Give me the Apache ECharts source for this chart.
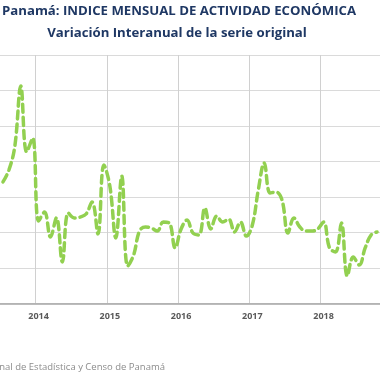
<!DOCTYPE html>
<html><head><meta charset="utf-8">
<script src="https://cdn.jsdelivr.net/npm/echarts@6/dist/echarts.min.js"></script>
<style>html,body{margin:0;padding:0;background:#fff}#c{width:380px;height:380px}</style>
</head><body><div id="c"></div>
<script>
var months = ["2013-07","2013-08","2013-09","2013-10","2013-11","2013-12",
"2014-01","2014-02","2014-03","2014-04","2014-05","2014-06","2014-07","2014-08","2014-09","2014-10","2014-11","2014-12",
"2015-01","2015-02","2015-03","2015-04","2015-05","2015-06","2015-07","2015-08","2015-09","2015-10","2015-11","2015-12",
"2016-01","2016-02","2016-03","2016-04","2016-05","2016-06","2016-07","2016-08","2016-09","2016-10","2016-11","2016-12",
"2017-01","2017-02","2017-03","2017-04","2017-05","2017-06","2017-07","2017-08","2017-09","2017-10","2017-11","2017-12",
"2018-01","2018-02","2018-03","2018-04","2018-05","2018-06","2018-07","2018-08","2018-09","2018-10"];
var variacion = [6.85,7.52,8.87,12.25,8.54,9.32,
4.65,5.15,3.75,4.82,2.34,5.10,4.82,4.87,5.04,5.72,3.92,7.80,
6.62,3.69,7.18,2.11,2.73,4.08,4.31,4.25,4.08,4.59,4.54,3.13,
4.20,4.70,3.97,3.86,5.38,4.20,4.93,4.59,4.76,4.03,4.59,3.80,
4.42,6.39,7.92,6.23,6.28,5.83,3.97,4.82,4.31,4.08,4.08,4.20,
4.59,3.13,2.90,4.54,1.55,2.62,2.17,3.13,3.86,4.03];
var yMin = 0, yMax = 14, yStep = 2;
var titulo = "Panamá: INDICE MENSUAL DE ACTIVIDAD ECONÓMICA";
var subtitulo = "Variación Interanual de la serie original";
var fuente = "Fuente: Instituto Nacional de Estadística y Censo de Panamá";

var isJan = function (i) { return months[i].slice(5) === "01"; };
var chart = echarts.init(document.getElementById('c'), null, {renderer: 'canvas'});
chart.setOption({
  animation: false,
  grid: {left: -2.8, top: 55, width: 392, height: 248.5, containLabel: false},
  xAxis: {
    type: 'category', data: months, boundaryGap: true,
    axisLine: {lineStyle: {color: '#a6a6a6', width: 1.5}},
    axisTick: {show: false},
    axisLabel: {interval: function (i) { return isJan(i); }, formatter: function (v) { return v.slice(0, 4); },
      color: '#595959', fontSize: 9, fontWeight: 'bold', fontFamily: 'Open Sans', margin: 8},
    splitLine: {show: true, interval: function (i) { return isJan(i); }, lineStyle: {color: '#d0d0d0', width: 1}}
  },
  yAxis: {
    type: 'value', min: yMin, max: yMax, interval: yStep,
    axisLine: {show: false}, axisTick: {show: false}, axisLabel: {show: false},
    splitLine: {lineStyle: {color: '#dadada', width: 1}}
  },
  series: [{
    type: 'line', data: variacion, smooth: 0.4, symbol: 'none',
    lineStyle: {color: '#92d050', width: 3.5, type: [8, 5], cap: 'round'}
  }],
  graphic: [
    {type: 'text', style: {text: titulo, x: 2, y: 11, textVerticalAlign: 'middle', fill: '#1f3864', font: 'bold 13.2px "Open Sans"'}},
    {type: 'text', style: {text: subtitulo, x: 177, y: 33, textAlign: 'center', textVerticalAlign: 'middle', fill: '#1f3864', font: 'bold 13.2px "Open Sans"'}},
    {type: 'text', style: {text: fuente, x: 165, y: 362, textAlign: 'right', fill: '#8c8c8c', font: '9.5px "Open Sans"'}}
  ]
});
</script></body></html>
